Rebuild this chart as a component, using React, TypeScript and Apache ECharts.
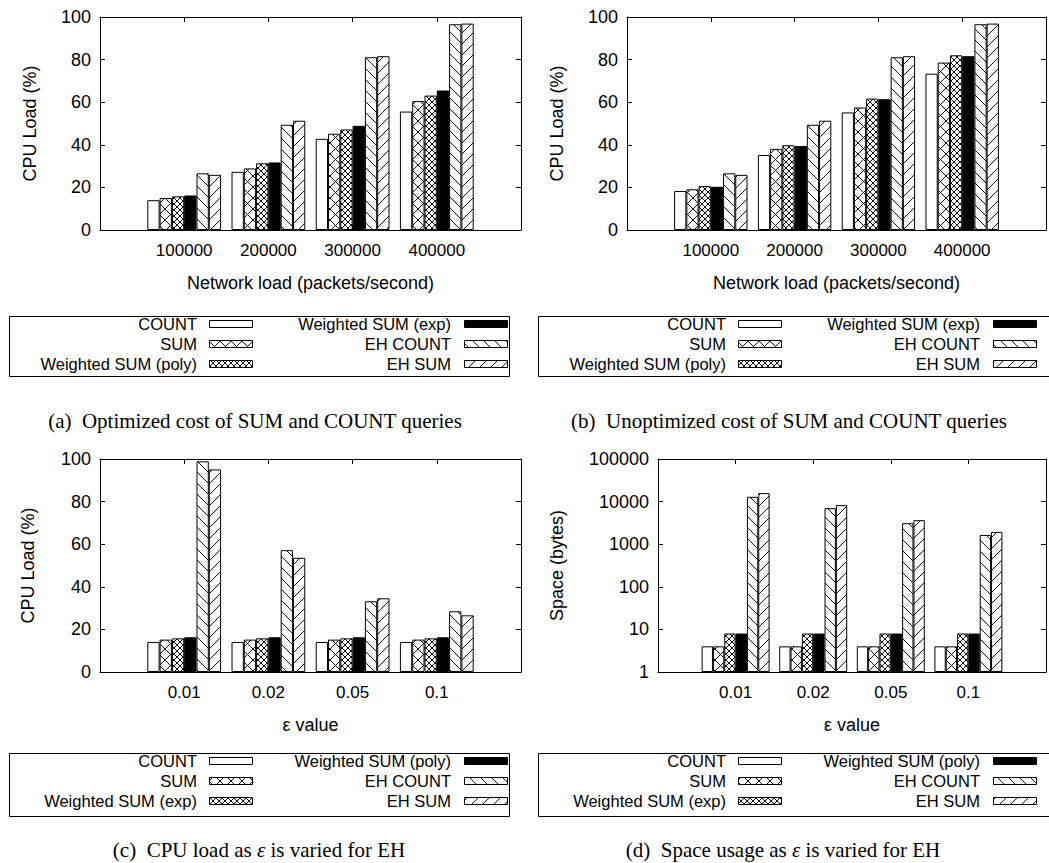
import React, { useEffect, useRef } from 'react';
import * as echarts from 'echarts';

// ---------- data ----------
const loadCategories = ['100000', '200000', '300000', '400000'];
const epsCategories = ['0.01', '0.02', '0.05', '0.1'];

const namesAB = ['COUNT', 'SUM', 'Weighted SUM (poly)', 'Weighted SUM (exp)', 'EH COUNT', 'EH SUM'];
const namesCD = ['COUNT', 'SUM', 'Weighted SUM (exp)', 'Weighted SUM (poly)', 'EH COUNT', 'EH SUM'];

// (a) optimized
const countA = [14.0, 27.3, 42.8, 55.6];
const sumA = [15.0, 28.9, 45.2, 60.5];
const polyA = [15.8, 31.3, 47.2, 63.1];
const expA = [16.2, 31.7, 48.9, 65.5];
const ehCountA = [26.6, 49.4, 81.1, 96.6];
const ehSumA = [25.9, 51.3, 81.6, 96.9];

// (b) unoptimized
const countB = [18.3, 35.2, 55.2, 73.4];
const sumB = [19.1, 38.1, 57.5, 78.6];
const polyB = [20.6, 39.8, 61.7, 82.0];
const expB = [20.3, 39.4, 61.4, 81.6];
const ehCountB = [26.6, 49.4, 81.1, 96.6];
const ehSumB = [25.9, 51.3, 81.6, 96.9];

// (c) CPU load vs epsilon
const countC = [14.1, 14.1, 14.1, 14.1];
const sumC = [15.2, 15.2, 15.2, 15.2];
const expC = [15.8, 15.8, 15.8, 15.8];
const polyC = [16.3, 16.3, 16.3, 16.3];
const ehCountC = [98.9, 57.2, 33.2, 28.5];
const ehSumC = [95.1, 53.6, 34.6, 26.6];

// (d) space vs epsilon
const countD = [4, 4, 4, 4];
const sumD = [4, 4, 4, 4];
const expD = [8, 8, 8, 8];
const polyD = [8, 8, 8, 8];
const ehCountD = [12970, 7020, 3110, 1650];
const ehSumD = [15800, 8260, 3660, 1945];

const yTicksLinear = [0, 20, 40, 60, 80, 100];
const yTicksLog = [1, 10, 100, 1000, 10000, 100000];

const captions = [
  '(a)\u00a0 Optimized cost of SUM and COUNT queries',
  '(b)\u00a0 Unoptimized cost of SUM and COUNT queries',
  '(c)\u00a0 CPU load as {e|ε} is varied for EH',
  '(d)\u00a0 Space usage as {e|ε} is varied for EH',
];

// ---------- styling helpers ----------
const SANS = 'Liberation Sans, Arial, Helvetica, sans-serif';
const SERIF = 'Liberation Serif, Times New Roman, serif';

function makePattern(kind: string): any {
  if (kind === 'white') return '#ffffff';
  if (kind === 'black') return '#000000';
  const s = kind === 'dense' ? 6 : 11;
  const c = document.createElement('canvas');
  c.width = s;
  c.height = s;
  const ctx = c.getContext('2d')!;
  ctx.fillStyle = '#ffffff';
  ctx.fillRect(0, 0, s, s);
  ctx.strokeStyle = '#111111';
  ctx.lineWidth = 1;
  ctx.beginPath();
  const back = kind === 'back' || kind === 'cross' || kind === 'dense';
  const fwd = kind === 'fwd' || kind === 'cross' || kind === 'dense';
  for (const k of [-1, 0, 1]) {
    if (back) {
      ctx.moveTo(-1, -1 + k * s);
      ctx.lineTo(s + 1, s + 1 + k * s);
    }
    if (fwd) {
      ctx.moveTo(-1, s + 1 + k * s);
      ctx.lineTo(s + 1, -1 + k * s);
    }
  }
  ctx.stroke();
  return { image: c, repeat: 'repeat', imageWidth: s, imageHeight: s };
}

const patternKinds = ['white', 'cross', 'dense', 'black', 'back', 'fwd'];

export default function App() {
  const ref = useRef<HTMLDivElement>(null);

  useEffect(() => {
    if (!ref.current) return;
    const chart = echarts.init(ref.current, null, { renderer: 'svg' });
    const patterns = patternKinds.map(makePattern);

    const grids = [
      { left: 100, top: 17, width: 421, height: 213 },
      { left: 627, top: 17, width: 423, height: 213 },
      { left: 100, top: 459, width: 421, height: 213 },
      { left: 658, top: 459, width: 391, height: 213 },
    ];
    const panels = [
      { cats: loadCategories, names: namesAB, vals: [countA, sumA, polyA, expA, ehCountA, ehSumA], xName: 'Network load (packets/second)', yName: 'CPU Load (%)', log: false, nameGap: 61 },
      { cats: loadCategories, names: namesAB, vals: [countB, sumB, polyB, expB, ehCountB, ehSumB], xName: 'Network load (packets/second)', yName: 'CPU Load (%)', log: false, nameGap: 61 },
      { cats: epsCategories, names: namesCD, vals: [countC, sumC, expC, polyC, ehCountC, ehSumC], xName: 'ε value', yName: 'CPU Load (%)', log: false, nameGap: 63 },
      { cats: epsCategories, names: namesCD, vals: [countD, sumD, expD, polyD, ehCountD, ehSumD], xName: 'ε value', yName: 'Space (bytes)', log: true, nameGap: 92 },
    ];

    const lineStyle = { color: '#000', width: 1 };
    const xAxes: any[] = [];
    const yAxes: any[] = [];
    const series: any[] = [];

    panels.forEach((p, i) => {
      const catData = ['', ...p.cats, ''];
      const base = {
        type: 'category',
        gridIndex: i,
        boundaryGap: false,
        data: catData,
        axisLine: { show: true, onZero: false, lineStyle },
        axisTick: { show: true, inside: true, length: 5, lineStyle },
        splitLine: { show: false },
      };
      xAxes.push({
        ...base,
        position: 'bottom',
        axisLabel: { interval: 0, margin: 12, fontSize: 17, color: '#000', fontFamily: SANS },
        name: p.xName,
        nameLocation: 'middle',
        nameGap: 44,
        nameTextStyle: { fontSize: 18, color: '#000', fontFamily: SANS },
      });
      xAxes.push({ ...base, position: 'top', axisLabel: { show: false } });

      const yTicks = p.log ? yTicksLog : yTicksLinear;
      const ybase: any = p.log
        ? { type: 'log', logBase: 10, min: yTicks[0], max: yTicks[yTicks.length - 1], splitNumber: 5 }
        : { type: 'value', min: yTicks[0], max: yTicks[yTicks.length - 1], interval: yTicks[1] - yTicks[0] };
      const yCommon = {
        ...ybase,
        gridIndex: i,
        axisLine: { show: true, onZero: false, lineStyle },
        axisTick: { show: true, inside: true, length: 5, lineStyle },
        minorTick: { show: false },
        splitLine: { show: false },
      };
      yAxes.push({
        ...yCommon,
        position: 'left',
        axisLabel: { margin: 9, fontSize: 18, color: '#000', fontFamily: SANS, formatter: (v: number) => String(v) },
        name: p.yName,
        nameLocation: 'middle',
        nameGap: p.nameGap,
        nameTextStyle: { fontSize: 18, color: '#000', fontFamily: SANS },
      });
      yAxes.push({ ...yCommon, position: 'right', axisLabel: { show: false } });

      p.vals.forEach((v, j) => {
        series.push({
          type: 'bar',
          name: p.names[j] + ' ' + i,
          xAxisIndex: 2 * i,
          yAxisIndex: 2 * i,
          data: [null, ...v, null],
          barWidth: '14.6%',
          barGap: '0%',
          silent: true,
          itemStyle: { color: patterns[j], borderColor: '#000', borderWidth: 1 },
        });
      });
    });

    // legends + captions
    const graphics: any[] = [];
    const legendBoxes = [
      { x: 9, y: 316, w: 500, h: 60 },
      { x: 538, y: 316, w: 520, h: 60 },
      { x: 9, y: 753, w: 500, h: 63 },
      { x: 538, y: 753, w: 520, h: 63 },
    ];
    const captionPos = [
      { x: 255, y: 421 },
      { x: 789, y: 421 },
      { x: 259, y: 850 },
      { x: 783, y: 850 },
    ];
    panels.forEach((p, i) => {
      const b = legendBoxes[i];
      graphics.push({
        type: 'rect',
        shape: { x: b.x + 0.5, y: b.y + 0.5, width: b.w, height: b.h },
        style: { fill: '#fff', stroke: '#000', lineWidth: 1 },
        silent: true,
      });
      p.names.forEach((n, j) => {
        const col = j < 3 ? 0 : 1;
        const row = j % 3;
        const cy = b.y + 8 + row * 20;
        const textRight = b.x + (col === 0 ? 188 : 442);
        const keyX = b.x + (col === 0 ? 200 : 455);
        graphics.push({
          type: 'text',
          x: textRight,
          y: cy,
          silent: true,
          style: {
            text: n,
            font: `16.5px ${SANS}`,
            fill: '#000',
            textAlign: 'right',
            align: 'right',
            textVerticalAlign: 'middle',
            verticalAlign: 'middle',
          },
        });
        graphics.push({
          type: 'rect',
          silent: true,
          shape: { x: keyX + 0.5, y: cy - 3.5, width: 43, height: 7 },
          style: { fill: patterns[j], stroke: '#000', lineWidth: 1 },
        });
      });
      const c = captionPos[i];
      graphics.push({
        type: 'text',
        x: c.x,
        y: c.y,
        silent: true,
        style: {
          text: captions[i],
          font: `21px ${SERIF}`,
          fill: '#000',
          textAlign: 'center',
          align: 'center',
          textVerticalAlign: 'middle',
          verticalAlign: 'middle',
          rich: {
            e: { fontStyle: 'italic', fontSize: 21, fontFamily: SERIF, fill: '#000' },
          },
        },
      });
    });

    chart.setOption({
      animation: false,
      backgroundColor: '#fff',
      grid: grids,
      xAxis: xAxes,
      yAxis: yAxes,
      series,
      graphic: graphics,
    });
    return () => chart.dispose();
  }, []);

  return (
    <div
      ref={ref}
      style={{ position: 'absolute', left: 0, top: 0, width: 1049, height: 863, background: '#fff' }}
    />
  );
}
